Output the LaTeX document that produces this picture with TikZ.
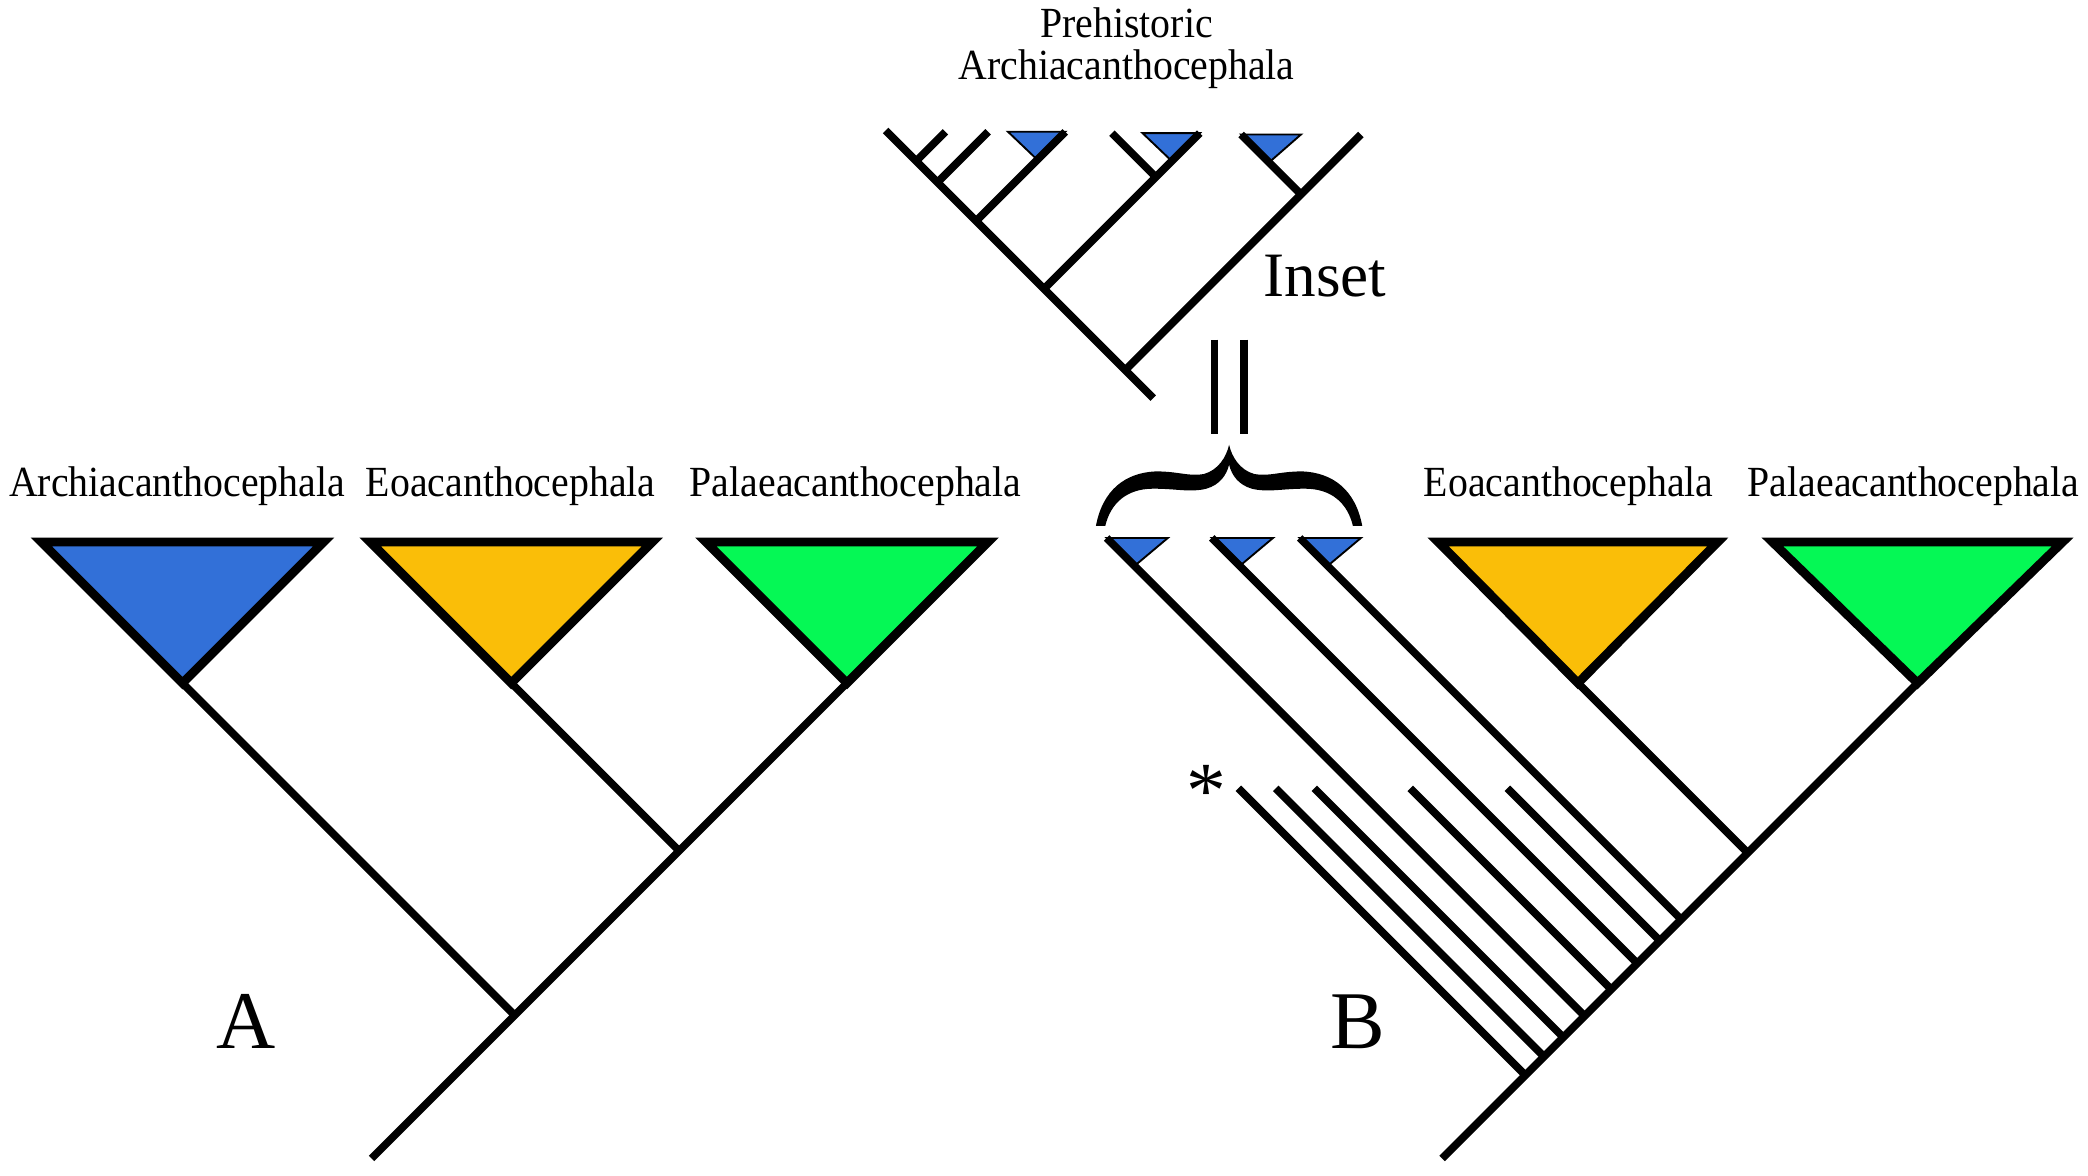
\documentclass[tikz,border=0pt]{standalone}
\usepackage{fontspec}
\setmainfont{Liberation Serif}
\definecolor{archblue}{RGB}{50,112,216}
\definecolor{eoayellow}{RGB}{250,190,8}
\definecolor{palgreen}{RGB}{5,248,85}
\newcommand{\taxname}[1]{\scalebox{1}[1.08]{#1}}

\begin{document}
\begin{tikzpicture}[x=0.01cm, y=-0.01cm,
    branch/.style={line width=1.65pt},
    clade/.style={line width=1.9pt},
    tipclade/.style={draw, line width=0.4pt, fill=archblue},
    taxon/.style={font=\fontsize{8.5}{10}\selectfont},
    panel/.style={font=\fontsize{17.5}{20}\selectfont}]
  \useasboundingbox (0,0) rectangle (1568,883);

  % tree A points
  \coordinate (aArc) at (137,513);
  \coordinate (aEoa) at (384,513);
  \coordinate (aPal) at (636,513);
  \coordinate (aN2) at (510,639);
  \coordinate (aN1) at (386.5,762.5);
  \coordinate (aRoot) at (279,870);

  % tree A clades
  \draw[clade, fill=archblue] (aArc) -- ++(-106,-106) -- ++(212,0) -- cycle;
  \draw[clade, fill=eoayellow] (aEoa) -- ++(-106,-106) -- ++(212,0) -- cycle;
  \draw[clade, fill=palgreen] (aPal) -- ++(-106,-106) -- ++(212,0) -- cycle;

  % tree A branches
  \draw[branch] (aPal) -- (aRoot);
  \draw[branch] (aEoa) -- (aN2);
  \draw[branch] (aArc) -- (aN1);

  \node[taxon] (labAArc) at (133,365) {\taxname{Archiacanthocephala}};
  \node[taxon] (labAEoa) at (383.5,365) {\taxname{Eoacanthocephala}};
  \node[taxon] (labAPal) at (642.5,365) {\taxname{Palaeacanthocephala}};
  \node[panel] (labA) at (185,767) {A};

  % tree B points
  \coordinate (bEoa) at (1185,513);
  \coordinate (bPal) at (1440,513);
  \coordinate (bRoot) at (1083,870);
  \coordinate (bNEoa) at (1312.5,640.5);
  % archiacanthocephalan tips and their nodes
  \coordinate (bT1) at (831,404);
  \coordinate (bT2) at (910,404);
  \coordinate (bT3) at (976,404);
  \coordinate (bN1) at (1190,763);
  \coordinate (bN2) at (1229.5,723.5);
  \coordinate (bN3) at (1262.5,690.5);
  % stubs
  \coordinate (bS1) at (930,592);
  \coordinate (bS2) at (958,592);
  \coordinate (bS3) at (987,592);
  \coordinate (bS4) at (1059,592);
  \coordinate (bS5) at (1132,592);
  \coordinate (bM1) at (1145.5,807.5);
  \coordinate (bM2) at (1159.5,793.5);
  \coordinate (bM3) at (1174,779);
  \coordinate (bM4) at (1210,743);
  \coordinate (bM5) at (1246.5,706.5);

  % tree B clades
  \draw[clade, fill=eoayellow] (bEoa) -- ++(-105,-106) -- ++(210,0) -- cycle;
  \draw[clade, fill=palgreen] (bPal) -- ++(-109,-106) -- ++(218,0) -- cycle;
  \foreach \t in {bT1,bT2,bT3}
    \draw[tipclade] (\t) -- ++(46,0) -- ++(-25,21) -- cycle;

  % tree B branches
  \draw[branch] (bPal) -- (bRoot);
  \draw[branch] (bEoa) -- (bNEoa);
  \foreach \s/\e in {bT1/bN1,bT2/bN2,bT3/bN3,bS1/bM1,bS2/bM2,bS3/bM3,bS4/bM4,bS5/bM5}
    \draw[branch] (\s) -- (\e);

  \node[taxon] (labBEoa) at (1178,365) {\taxname{Eoacanthocephala}};
  \node[taxon] (labBPal) at (1437,365) {\taxname{Palaeacanthocephala}};
  \node[panel] (labB) at (1020,767) {B};
  \node[font=\fontsize{17}{20}\selectfont] (star) at (906,594) {*};

  % brace and equals bars
  \fill (823,395) .. controls (828,368) and (845,355) .. (868,354)
    .. controls (885,354) and (893,358) .. (904,356)
    .. controls (915,353) and (921,343) .. (923,334)
    .. controls (925,343) and (931,353) .. (942,356)
    .. controls (953,358) and (961,354) .. (978,354)
    .. controls (1001,355) and (1018,368) .. (1023,395)
    -- (1016,395)
    .. controls (1012,378) and (1000,367) .. (980,367)
    .. controls (962,367) and (952,370) .. (940,367)
    .. controls (930,364) and (925,357) .. (923,349)
    .. controls (921,357) and (916,364) .. (906,367)
    .. controls (894,370) and (884,367) .. (866,367)
    .. controls (846,367) and (834,378) .. (830,395) -- cycle;
  \coordinate (bar1a) at (912,255);
  \coordinate (bar1b) at (912,326);
  \coordinate (bar2a) at (934,255);
  \coordinate (bar2b) at (934,326);
  \draw[branch] (bar1a) -- (bar1b);
  \draw[branch] (bar2a) -- (bar2b);

  % inset tree points
  \coordinate (iTop) at (665,98);
  \coordinate (iRoot) at (866,299);
  \coordinate (iJ1) at (688,121);
  \coordinate (iT1) at (710,99);
  \coordinate (iJ2) at (704,137);
  \coordinate (iT2) at (742,99);
  \coordinate (iJ3) at (733,166);
  \coordinate (iT3) at (800,99);
  \coordinate (iJ4) at (784,217);
  \coordinate (iT4) at (901,100);
  \coordinate (iJ5) at (868,133);
  \coordinate (iT5) at (835,100);
  \coordinate (iJ6) at (845,278);
  \coordinate (iT6) at (1022,101);
  \coordinate (iJ7) at (977,146);
  \coordinate (iT7) at (932,101);

  % inset tips
  \draw[tipclade] (iT3) -- ++(-43,0) -- ++(22,21) -- cycle;
  \draw[tipclade] (iT4) -- ++(-43,0) -- ++(22,21) -- cycle;
  \draw[tipclade] (iT7) -- ++(45,0) -- ++(-24,21) -- cycle;

  % inset branches
  \draw[branch] (iTop) -- (iRoot);
  \foreach \s/\e in {iJ1/iT1,iJ2/iT2,iJ3/iT3,iJ4/iT4,iJ5/iT5,iJ6/iT6,iJ7/iT7}
    \draw[branch] (\s) -- (\e);

  \node[taxon] (labPre) at (846,17) {\taxname{Prehistoric}};
  \node[taxon] (labPreArc) at (846,52) {\taxname{Archiacanthocephala}};
  \node[font=\fontsize{13.5}{16}\selectfont] (labInset) at (995,207) {Inset};
\end{tikzpicture}
\end{document}
